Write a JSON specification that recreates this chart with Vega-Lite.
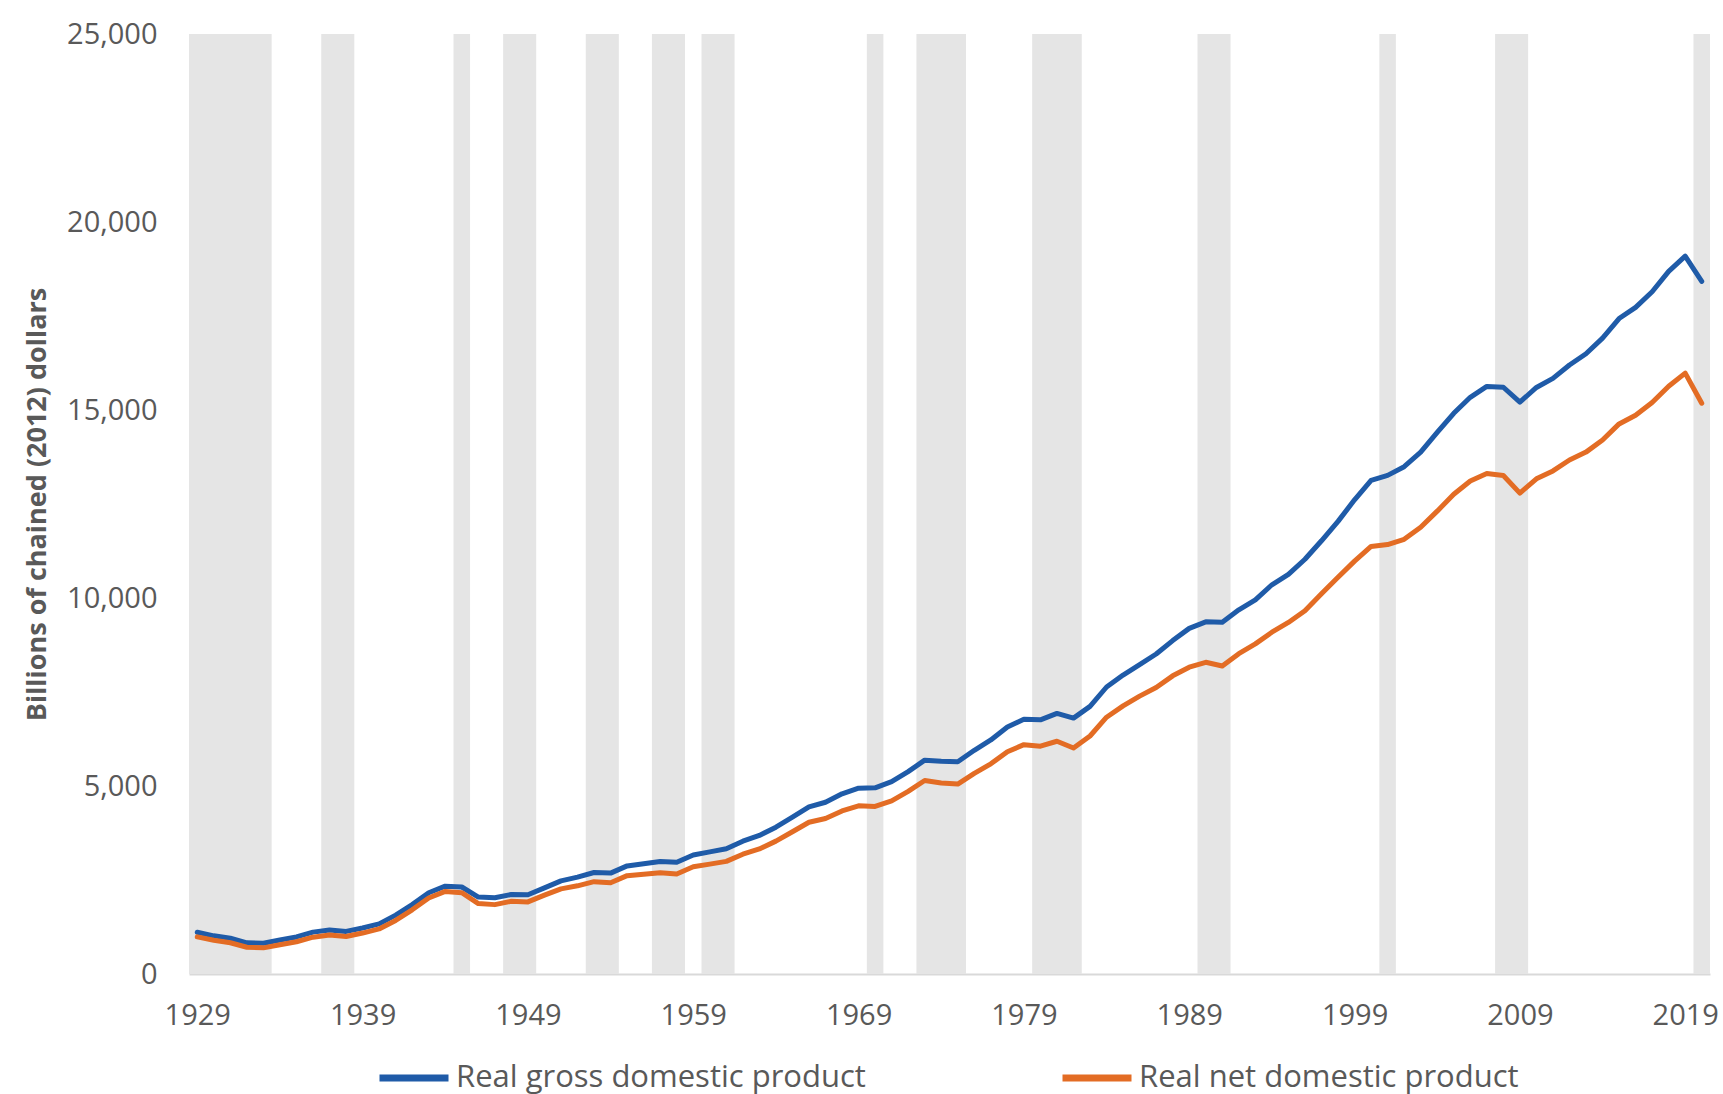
{
  "$schema": "https://vega.github.io/schema/vega-lite/v6.json",
  "width": 1521,
  "height": 940,
  "autosize": {"type": "none"},
  "padding": {"left": 189, "top": 34, "right": 13, "bottom": 120},
  "background": "white",
  "config": {
    "font": "Open Sans",
    "view": {"stroke": null},
    "axis": {"labelColor": "#595959", "titleColor": "#595959", "labelFont": "Open Sans", "titleFont": "Open Sans"}
  },
  "datasets": {
    "recessions": [
      {"start": 1928.5, "end": 1933.5},
      {"start": 1936.5, "end": 1938.5},
      {"start": 1944.5, "end": 1945.5},
      {"start": 1947.5, "end": 1949.5},
      {"start": 1952.5, "end": 1954.5},
      {"start": 1956.5, "end": 1958.5},
      {"start": 1959.5, "end": 1961.5},
      {"start": 1969.5, "end": 1970.5},
      {"start": 1972.5, "end": 1975.5},
      {"start": 1979.5, "end": 1982.5},
      {"start": 1989.5, "end": 1991.5},
      {"start": 2000.5, "end": 2001.5},
      {"start": 2007.5, "end": 2009.5},
      {"start": 2019.5, "end": 2020.5}
    ],
    "gdp": [
      {"year": 1929, "gdp": 1109, "ndp": 987},
      {"year": 1930, "gdp": 1015, "ndp": 898},
      {"year": 1931, "gdp": 950, "ndp": 831},
      {"year": 1932, "gdp": 828, "ndp": 712},
      {"year": 1933, "gdp": 817, "ndp": 695},
      {"year": 1934, "gdp": 906, "ndp": 779},
      {"year": 1935, "gdp": 986, "ndp": 858},
      {"year": 1936, "gdp": 1114, "ndp": 980},
      {"year": 1937, "gdp": 1171, "ndp": 1036},
      {"year": 1938, "gdp": 1133, "ndp": 997},
      {"year": 1939, "gdp": 1224, "ndp": 1089},
      {"year": 1940, "gdp": 1332, "ndp": 1199},
      {"year": 1941, "gdp": 1566, "ndp": 1425},
      {"year": 1942, "gdp": 1846, "ndp": 1707},
      {"year": 1943, "gdp": 2161, "ndp": 2021},
      {"year": 1944, "gdp": 2337, "ndp": 2197},
      {"year": 1945, "gdp": 2314, "ndp": 2163},
      {"year": 1946, "gdp": 2045, "ndp": 1872},
      {"year": 1947, "gdp": 2028, "ndp": 1845},
      {"year": 1948, "gdp": 2115, "ndp": 1935},
      {"year": 1949, "gdp": 2107, "ndp": 1917},
      {"year": 1950, "gdp": 2291, "ndp": 2096},
      {"year": 1951, "gdp": 2476, "ndp": 2265},
      {"year": 1952, "gdp": 2576, "ndp": 2345},
      {"year": 1953, "gdp": 2699, "ndp": 2456},
      {"year": 1954, "gdp": 2683, "ndp": 2428},
      {"year": 1955, "gdp": 2875, "ndp": 2616},
      {"year": 1956, "gdp": 2933, "ndp": 2655},
      {"year": 1957, "gdp": 2994, "ndp": 2694},
      {"year": 1958, "gdp": 2972, "ndp": 2660},
      {"year": 1959, "gdp": 3167, "ndp": 2851},
      {"year": 1960, "gdp": 3247, "ndp": 2922},
      {"year": 1961, "gdp": 3329, "ndp": 2996},
      {"year": 1962, "gdp": 3532, "ndp": 3186},
      {"year": 1963, "gdp": 3685, "ndp": 3327},
      {"year": 1964, "gdp": 3905, "ndp": 3534},
      {"year": 1965, "gdp": 4171, "ndp": 3783},
      {"year": 1966, "gdp": 4445, "ndp": 4036},
      {"year": 1967, "gdp": 4568, "ndp": 4134},
      {"year": 1968, "gdp": 4792, "ndp": 4337},
      {"year": 1969, "gdp": 4942, "ndp": 4473},
      {"year": 1970, "gdp": 4951, "ndp": 4456},
      {"year": 1971, "gdp": 5114, "ndp": 4603},
      {"year": 1972, "gdp": 5383, "ndp": 4856},
      {"year": 1973, "gdp": 5687, "ndp": 5147},
      {"year": 1974, "gdp": 5657, "ndp": 5080},
      {"year": 1975, "gdp": 5645, "ndp": 5052},
      {"year": 1976, "gdp": 5949, "ndp": 5336},
      {"year": 1977, "gdp": 6224, "ndp": 5589},
      {"year": 1978, "gdp": 6569, "ndp": 5912},
      {"year": 1979, "gdp": 6777, "ndp": 6100},
      {"year": 1980, "gdp": 6759, "ndp": 6060},
      {"year": 1981, "gdp": 6931, "ndp": 6190},
      {"year": 1982, "gdp": 6806, "ndp": 6010},
      {"year": 1983, "gdp": 7118, "ndp": 6330},
      {"year": 1984, "gdp": 7633, "ndp": 6830},
      {"year": 1985, "gdp": 7951, "ndp": 7130},
      {"year": 1986, "gdp": 8226, "ndp": 7390},
      {"year": 1987, "gdp": 8511, "ndp": 7620},
      {"year": 1988, "gdp": 8867, "ndp": 7930},
      {"year": 1989, "gdp": 9192, "ndp": 8160},
      {"year": 1990, "gdp": 9366, "ndp": 8290},
      {"year": 1991, "gdp": 9355, "ndp": 8190},
      {"year": 1992, "gdp": 9685, "ndp": 8520},
      {"year": 1993, "gdp": 9952, "ndp": 8780},
      {"year": 1994, "gdp": 10352, "ndp": 9090},
      {"year": 1995, "gdp": 10630, "ndp": 9350},
      {"year": 1996, "gdp": 11031, "ndp": 9660},
      {"year": 1997, "gdp": 11522, "ndp": 10110},
      {"year": 1998, "gdp": 12038, "ndp": 10550},
      {"year": 1999, "gdp": 12611, "ndp": 10980},
      {"year": 2000, "gdp": 13131, "ndp": 11370},
      {"year": 2001, "gdp": 13262, "ndp": 11420},
      {"year": 2002, "gdp": 13493, "ndp": 11560},
      {"year": 2003, "gdp": 13879, "ndp": 11880},
      {"year": 2004, "gdp": 14406, "ndp": 12310},
      {"year": 2005, "gdp": 14913, "ndp": 12760},
      {"year": 2006, "gdp": 15338, "ndp": 13110},
      {"year": 2007, "gdp": 15626, "ndp": 13310},
      {"year": 2008, "gdp": 15605, "ndp": 13260},
      {"year": 2009, "gdp": 15209, "ndp": 12790},
      {"year": 2010, "gdp": 15599, "ndp": 13170},
      {"year": 2011, "gdp": 15841, "ndp": 13380},
      {"year": 2012, "gdp": 16197, "ndp": 13670},
      {"year": 2013, "gdp": 16495, "ndp": 13880},
      {"year": 2014, "gdp": 16912, "ndp": 14200},
      {"year": 2015, "gdp": 17432, "ndp": 14630},
      {"year": 2016, "gdp": 17731, "ndp": 14860},
      {"year": 2017, "gdp": 18144, "ndp": 15200},
      {"year": 2018, "gdp": 18688, "ndp": 15630},
      {"year": 2019, "gdp": 19092, "ndp": 15980},
      {"year": 2020, "gdp": 18423, "ndp": 15180}
    ]
  },
  "layer": [
    {
      "data": {"name": "recessions"},
      "mark": {"type": "rect", "color": "#e5e5e5"},
      "encoding": {
        "x": {"field": "start", "type": "quantitative", "scale": {"domain": [1928.5, 2020.5], "nice": false, "zero": false}},
        "x2": {"field": "end"},
        "y": {"datum": 25000},
        "y2": {"datum": 0}
      }
    },
    {
      "data": {"name": "gdp"},
      "transform": [
        {"fold": ["gdp", "ndp"], "as": ["key", "value"]},
        {"lookup": "key", "from": {"data": {"values": [
          {"key": "gdp", "series": "Real gross domestic product"},
          {"key": "ndp", "series": "Real net domestic product"}
        ]}, "key": "key", "fields": ["series"]}}
      ],
      "mark": {"type": "line", "strokeWidth": 5, "strokeJoin": "round", "strokeCap": "round"},
      "encoding": {
        "x": {
          "field": "year", "type": "quantitative",
          "scale": {"domain": [1928.5, 2020.5], "nice": false, "zero": false},
          "axis": {
            "title": null, "values": [1929, 1939, 1949, 1959, 1969, 1979, 1989, 1999, 2009, 2019],
            "format": "d", "ticks": false, "grid": false,
            "labelFontSize": 29, "labelPadding": 41, "labelBaseline": "middle",
            "domainColor": "#d9d9d9", "domainWidth": 2, "labelFlush": false
          }
        },
        "y": {
          "field": "value", "type": "quantitative",
          "scale": {"domain": [0, 25000], "nice": false},
          "axis": {
            "title": "Billions of chained (2012) dollars",
            "values": [0, 5000, 10000, 15000, 20000, 25000], "format": ",d",
            "ticks": false, "domain": false, "gridColor": "#e3e3e3", "gridWidth": 2,
            "labelFontSize": 29, "labelPadding": 32,
            "titleFontSize": 27, "titleFontWeight": "bold",
            "titleX": -152, "titleY": 470, "titleAngle": 270, "titleAlign": "center", "titleBaseline": "middle"
          }
        },
        "color": {
          "field": "series", "type": "nominal",
          "scale": {"domain": ["Real gross domestic product", "Real net domestic product"], "range": ["#1f5ba8", "#e36c24"]},
          "legend": {
            "title": null, "orient": "none", "direction": "horizontal",
            "legendX": 187, "legendY": 1006,
            "symbolType": "stroke", "symbolSize": 4761, "symbolStrokeWidth": 7,
            "labelFontSize": 31, "labelColor": "#595959", "labelFont": "Open Sans",
            "labelOffset": 4, "columnPadding": 182, "labelLimit": 700, "padding": 0
          }
        }
      }
    }
  ]
}
